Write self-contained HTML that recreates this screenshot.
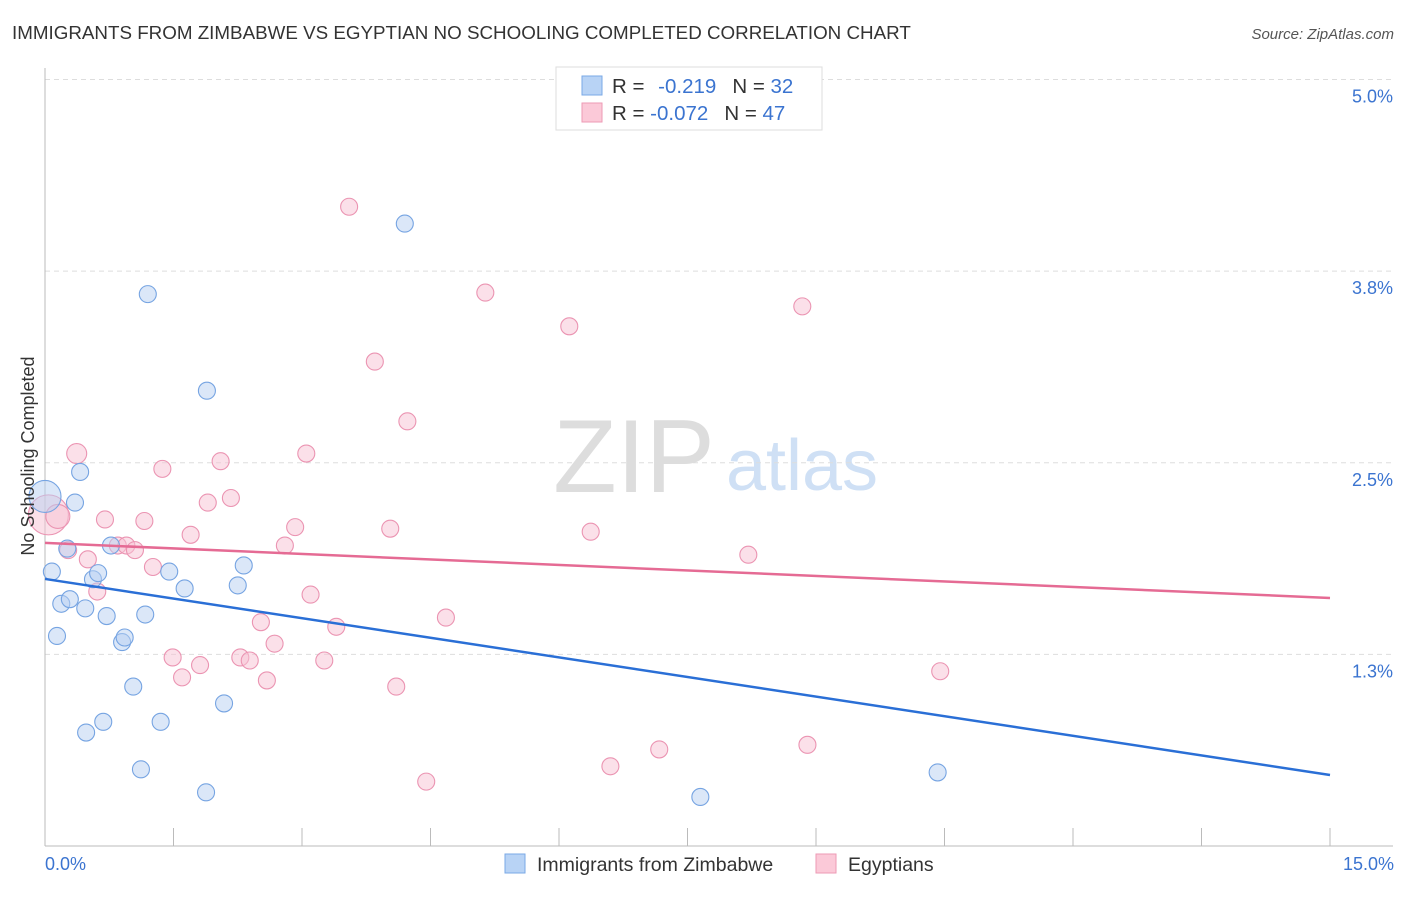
<!DOCTYPE html>
<html><head><meta charset="utf-8"><style>
body{margin:0;background:#fff;font-family:"Liberation Sans",sans-serif;}
svg text{font-family:"Liberation Sans",sans-serif;}
</style></head><body>
<svg id="c" width="1406" height="892" viewBox="0 0 1406 892">
<text x="12" y="39" font-size="18.8" fill="#333">IMMIGRANTS FROM ZIMBABWE VS EGYPTIAN NO SCHOOLING COMPLETED CORRELATION CHART</text>
<text x="1394" y="39" font-size="15" fill="#555" font-style="italic" text-anchor="end">Source: ZipAtlas.com</text>
<g>
<text x="634" y="492" font-size="104" fill="#ddd" font-family="Liberation Serif" text-anchor="middle">ZIP</text>
<text x="802" y="490" font-size="72" fill="#cfe0f5" text-anchor="middle">atlas</text>
</g>
<g id="grid"></g><g id="axes"></g><g id="marks"></g>
<text transform="translate(34,456) rotate(-90)" font-size="18" fill="#333" text-anchor="middle">No Schooling Completed</text>
<text x="45" y="870" font-size="18" fill="#3b74d0">0.0%</text>
<text x="1394" y="870" font-size="18" fill="#3b74d0" text-anchor="end">15.0%</text>
<g>
<rect x="556" y="67" width="266" height="63" fill="#fff" stroke="#ddd"/>
<rect x="582" y="76" width="20" height="19" fill="#b8d3f5" stroke="#7aa8e6"/>
<rect x="582" y="103" width="20" height="19" fill="#fbc9d8" stroke="#ee9ab5"/>
<text x="612" y="93" font-size="20.5" fill="#333">R = <tspan fill="#3b74d0" dx="8">-0.219</tspan><tspan dx="16">N = </tspan><tspan fill="#3b74d0">32</tspan></text>
<text x="612" y="120" font-size="20.5" fill="#333">R = <tspan fill="#3b74d0">-0.072</tspan><tspan dx="16">N = </tspan><tspan fill="#3b74d0">47</tspan></text>
</g>
<g>
<rect x="505" y="854" width="20" height="19" fill="#b8d3f5" stroke="#7aa8e6"/>
<text x="537" y="871" font-size="19.5" fill="#333">Immigrants from Zimbabwe</text>
<rect x="816" y="854" width="20" height="19" fill="#fbc9d8" stroke="#ee9ab5"/>
<text x="848" y="871" font-size="19.5" fill="#333">Egyptians</text>
</g>
</svg>
<script>
const yTicks=[1.25,2.5,3.75,5.0];
const yTickLabels=["1.3%","2.5%","3.8%","5.0%"];
const xTicks=[0,1.5,3,4.5,6,7.5,9,10.5,12,13.5,15];
const blueX=[0.00,0.08,0.19,0.29,0.35,0.41,0.47,0.14,0.26,0.56,0.62,0.72,0.90,0.93,0.77,1.17,1.20,1.45,1.63,1.89,2.25,2.32,2.09,1.35,1.03,0.68,0.48,1.12,1.88,4.20,7.65,10.42];
const blueY=[2.28,1.79,1.58,1.61,2.24,2.44,1.55,1.37,1.94,1.74,1.78,1.50,1.33,1.36,1.96,1.51,3.60,1.79,1.68,2.97,1.70,1.83,0.93,0.81,1.04,0.81,0.74,0.50,0.35,4.06,0.32,0.48];
const blueR=[16,8.5,8.5,8.5,8.5,8.5,8.5,8.5,8.5,8.5,8.5,8.5,8.5,8.5,8.5,8.5,8.5,8.5,8.5,8.5,8.5,8.5,8.5,8.5,8.5,8.5,8.5,8.5,8.5,8.5,8.5,8.5];
const pinkX=[0.04,0.15,0.27,0.37,0.50,0.61,0.70,0.85,0.95,1.05,1.16,1.26,1.37,1.49,1.60,1.70,1.81,1.90,2.05,2.17,2.28,2.39,2.52,2.59,2.68,2.80,2.92,3.05,3.10,3.26,3.40,3.55,3.85,4.03,4.10,4.23,4.45,4.68,5.14,6.12,6.37,6.60,7.17,8.21,8.84,8.90,10.45];
const pinkY=[2.16,2.15,1.93,2.56,1.87,1.66,2.13,1.96,1.96,1.93,2.12,1.82,2.46,1.23,1.10,2.03,1.18,2.24,2.51,2.27,1.23,1.21,1.46,1.08,1.32,1.96,2.08,2.56,1.64,1.21,1.43,4.17,3.16,2.07,1.04,2.77,0.42,1.49,3.61,3.39,2.05,0.52,0.63,1.90,3.52,0.66,1.14];
const pinkR=[20,12,8.5,10,8.5,8.5,8.5,8.5,8.5,8.5,8.5,8.5,8.5,8.5,8.5,8.5,8.5,8.5,8.5,8.5,8.5,8.5,8.5,8.5,8.5,8.5,8.5,8.5,8.5,8.5,8.5,8.5,8.5,8.5,8.5,8.5,8.5,8.5,8.5,8.5,8.5,8.5,8.5,8.5,8.5,8.5,8.5];
const blueTrend=[1.742,0.463];
const pinkTrend=[1.977,1.618];
const NS="http://www.w3.org/2000/svg";
const xs=v=>45+v*85.667, ys=v=>846-v*153.3;
function mk(p,t,a){const e=document.createElementNS(NS,t);for(const k in a)e.setAttribute(k,a[k]);document.getElementById(p).appendChild(e);return e;}
yTicks.forEach((t,i)=>{
 const g=mk('grid','line',{x1:45,x2:1393,y1:ys(t),y2:ys(t),stroke:'#ddd','stroke-dasharray':'5,4'});
 
 
 const l=mk('grid','text',{x:1393,y:ys(t)+23,'font-size':18,fill:'#3b74d0','text-anchor':'end'});
 l.textContent=yTickLabels[i];
 
 
});
const ax=mk('axes','line',{x1:45,x2:45,y1:68,y2:846,stroke:'#bbb'});


const bx=mk('axes','line',{x1:45,x2:1393,y1:846,y2:846,stroke:'#bbb'});


xTicks.forEach(t=>{const e=mk('axes','line',{x1:xs(t),x2:xs(t),y1:828,y2:846,stroke:'#bbb'});
 
 });
function pts(X,Y,R,f,s,n){X.forEach((x,i)=>{const c=mk('marks','circle',{cx:xs(x),cy:ys(Y[i]),r:R[i],fill:f,'fill-opacity':0.5,stroke:s,'stroke-width':1.1});
 
 });}
pts(pinkX,pinkY,pinkR,'#f8c2d4','#eb94b2','egyptians-point');
pts(blueX,blueY,blueR,'#b8d0f2','#76a4e2','zimbabwe-point');
const t1=mk('marks','line',{x1:xs(0),y1:ys(blueTrend[0]),x2:xs(15),y2:ys(blueTrend[1]),stroke:'#2a6fd6','stroke-width':2.5});


const t2=mk('marks','line',{x1:xs(0),y1:ys(pinkTrend[0]),x2:xs(15),y2:ys(pinkTrend[1]),stroke:'#e56b94','stroke-width':2.5});


</script>
</body></html>
